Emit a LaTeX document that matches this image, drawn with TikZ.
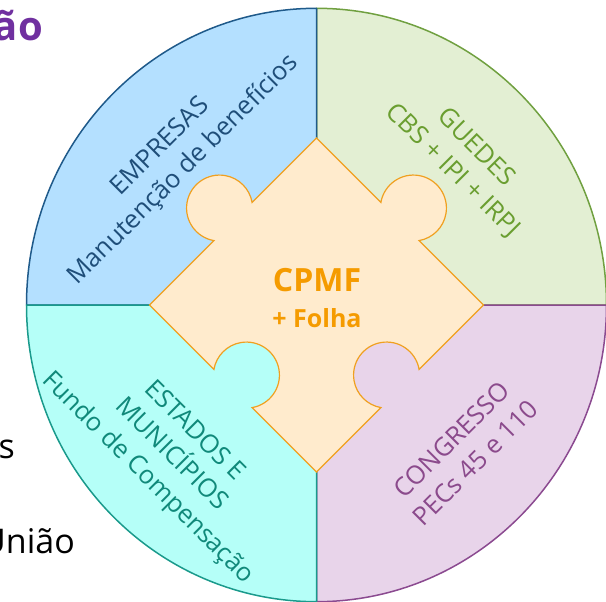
\documentclass[tikz,border=0pt]{standalone}
\usepackage{fontspec}
\setmainfont{Open Sans}
\definecolor{bluefill}{RGB}{180,224,255}
\definecolor{blueline}{RGB}{31,90,138}
\definecolor{bluetext}{RGB}{31,78,121}
\definecolor{greenfill}{RGB}{227,239,211}
\definecolor{greenline}{RGB}{112,160,64}
\definecolor{greentext}{RGB}{106,158,48}
\definecolor{cyanfill}{RGB}{181,255,248}
\definecolor{cyanline}{RGB}{26,154,140}
\definecolor{cyantext}{RGB}{16,137,122}
\definecolor{purplefill}{RGB}{232,212,234}
\definecolor{purpleline}{RGB}{139,74,144}
\definecolor{purpletext}{RGB}{139,74,140}
\definecolor{piecefill}{RGB}{255,235,205}
\definecolor{pieceline}{RGB}{240,160,32}
\definecolor{piecetext}{RGB}{245,155,0}
\definecolor{titlepurple}{RGB}{112,48,160}
\begin{document}
\begin{tikzpicture}[x=1pt,y=1pt,
  quad/.style={line width=1.5pt,line join=round},
  lbl/.style={inner sep=0pt,align=center,font=\fontsize{25.5}{33}\selectfont},
  side/.style={inner sep=0pt,anchor=base east,font=\fontsize{34}{40}\selectfont,text=black}]
\useasboundingbox (0,0) rectangle (606,-602);
\def\rx{290}\def\ry{296.7}
\coordinate (c) at (316.5,-305);
% quadrants
\filldraw[quad,fill=greenfill,draw=greenline] (c) -- ++(\rx,0)
  arc[start angle=0,end angle=90,x radius=\rx,y radius=\ry] -- cycle;
\filldraw[quad,fill=bluefill,draw=blueline] (c) -- ++(0,\ry)
  arc[start angle=90,end angle=180,x radius=\rx,y radius=\ry] -- cycle;
\filldraw[quad,fill=purplefill,draw=purpleline] (c) -- ++(0,-\ry)
  arc[start angle=270,end angle=360,x radius=\rx,y radius=\ry] -- cycle;
\filldraw[quad,fill=cyanfill,draw=cyanline] (c) -- ++(-\rx,0)
  arc[start angle=180,end angle=270,x radius=\rx,y radius=\ry] -- cycle;
% puzzle piece
\filldraw[line width=1.2pt,line join=miter,fill=piecefill,draw=pieceline]
  (149.5,-305) -- (213.91,-240.59)
  arc[start angle=260.13,end angle=9.87,radius=33] -- (316.5,-138)
  -- (380.91,-202.41)
  arc[start angle=170.13,end angle=-80.13,radius=33] -- (483.5,-305)
  -- (419.09,-369.41)
  arc[start angle=9.87,end angle=260.13,radius=33] -- (316.5,-472)
  -- (252.09,-407.59)
  arc[start angle=-80.13,end angle=170.13,radius=33] -- cycle;
% labels
\node[lbl,text=bluetext,rotate=45] (empresas) at (172.5,-159)
  {EMPRESAS\\Manutenção de benefícios};
\node[lbl,text=greentext,rotate=-45] (guedes) at (464,-159.5)
  {GUEDES\\CBS + IPI + IRPJ};
\node[lbl,text=cyantext,rotate=-45] (estados) at (170.5,-455)
  {ESTADOS E\\MUNICÍPIOS\\Fundo de Compensação};
\node[lbl,text=purpletext,rotate=45] (congresso) at (463.5,-451)
  {CONGRESSO\\PECs 45 e 110};
\node[inner sep=0pt,text=piecetext,font=\fontsize{32}{36}\selectfont\bfseries] (cpmf) at (317,-280) {CPMF};
\node[inner sep=0pt,text=piecetext,font=\fontsize{25}{28}\selectfont\bfseries] (folha) at (317,-318) {+ Folha};
% slide fragments at the left
\node[inner sep=0pt,anchor=base east,text=titlepurple,font=\fontsize{40}{44}\selectfont\bfseries] (title) at (43,-41) {ão};
\node[side] (frags) at (15,-458) {s};
\node[side] (uniao) at (75,-553) {União};
\end{tikzpicture}
\end{document}
